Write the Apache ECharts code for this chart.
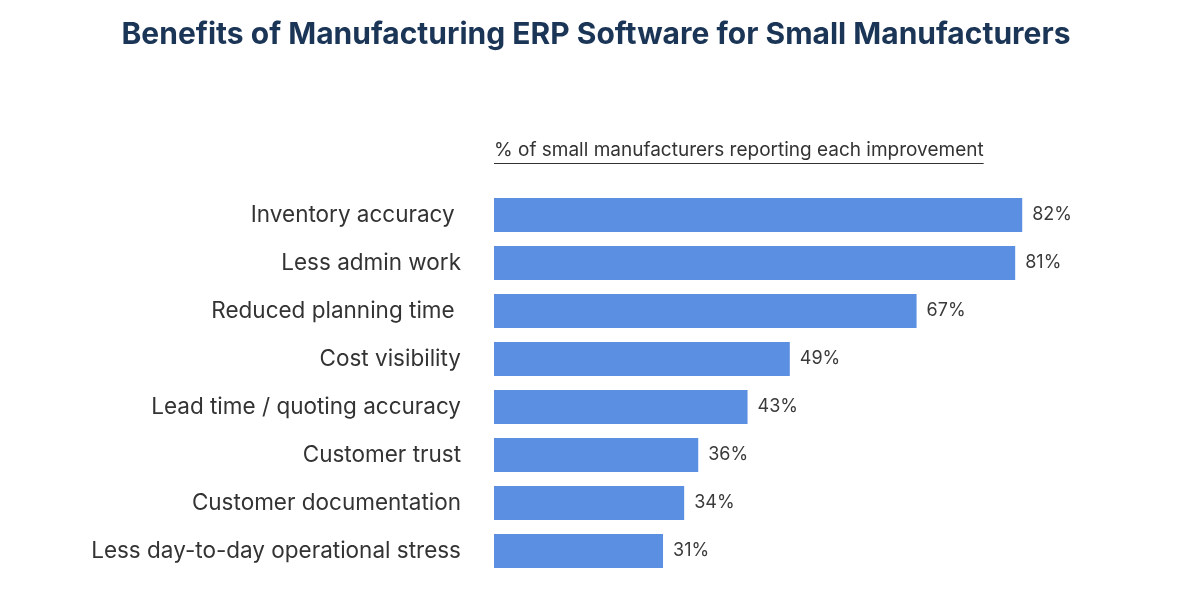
<!DOCTYPE html>
<html>
<head>
<meta charset="utf-8">
<script src="https://cdn.jsdelivr.net/npm/echarts@6/dist/echarts.min.js"></script>
<style>
html,body{margin:0;padding:0;background:#fff;}
#chart{width:1192px;height:610px;}
</style>
</head>
<body>
<div id="chart"></div>
<script>
var titleText = 'Benefits of Manufacturing ERP Software for Small Manufacturers';
var subtitleText = '% of small manufacturers reporting each improvement';
var categories = [
  'Inventory accuracy ',
  'Less admin work',
  'Reduced planning time ',
  'Cost visibility',
  'Lead time / quoting accuracy',
  'Customer trust',
  'Customer documentation',
  'Less day-to-day operational stress'
];
var values = [82, 81, 67, 49, 43, 36, 34, 31];

var chart = echarts.init(document.getElementById('chart'));
var FONT = 'Inter, "Open Sans", sans-serif';

function measure(text, font) {
  var c = document.createElement('canvas').getContext('2d');
  c.font = font;
  return c.measureText(text).width;
}
var subFont = '19px ' + FONT;
var subW = measure(subtitleText, subFont);

chart.setOption({
  animation: false,
  title: {
    text: titleText,
    left: 'center',
    top: 15,
    textStyle: { fontFamily: FONT, fontSize: 30, fontWeight: 'bold', color: '#1b3556' }
  },
  grid: { left: 494, right: 43, top: 191, bottom: 35, containLabel: false },
  xAxis: {
    type: 'value', min: 7, max: 100,
    show: false
  },
  yAxis: {
    type: 'category',
    data: categories,
    inverse: true,
    axisLine: { show: false },
    axisTick: { show: false },
    splitLine: { show: false },
    axisLabel: { fontFamily: FONT, fontSize: 22.5, color: '#333333', margin: 33 }
  },
  series: [{
    type: 'bar',
    data: values,
    barWidth: 34,
    itemStyle: { color: '#5b8fe1' },
    label: {
      show: true,
      position: 'right',
      distance: 10,
      formatter: '{c}%',
      fontFamily: FONT,
      fontSize: 18,
      color: '#3a3a3a'
    }
  }],
  graphic: [{
    type: 'group',
    left: 494,
    top: 141,
    children: [
      { type: 'text', left: 0, top: 0, style: { text: subtitleText, font: subFont, fill: '#333333' } },
      { type: 'rect', shape: { x: 0, y: 22, width: subW, height: 1 }, style: { fill: '#333333' } }
    ]
  }]
});
</script>
</body>
</html>
